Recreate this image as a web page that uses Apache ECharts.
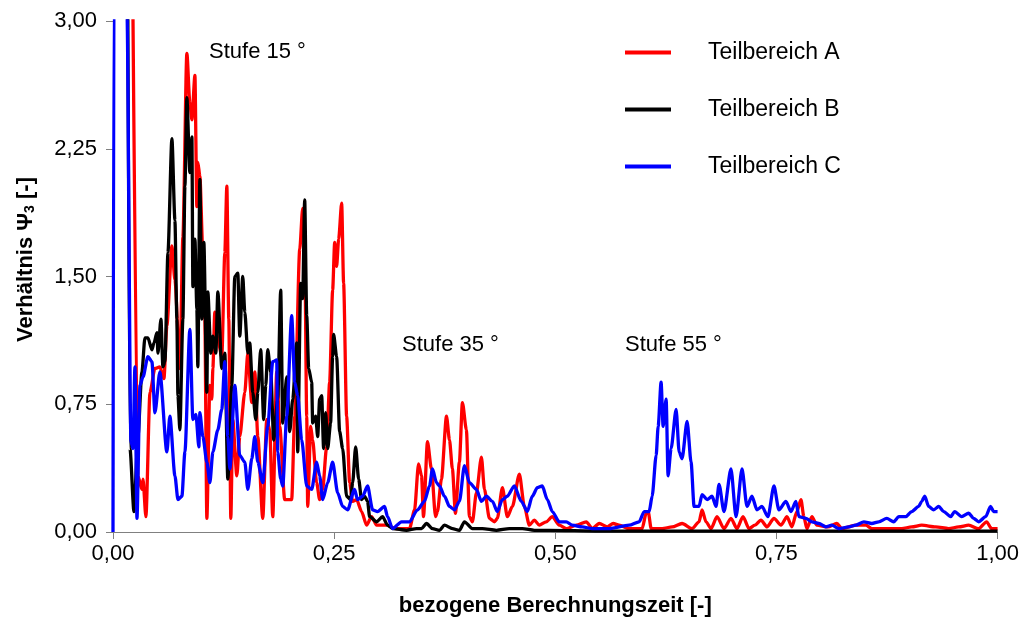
<!DOCTYPE html>
<html>
<head>
<meta charset="utf-8">
<script src="https://cdn.jsdelivr.net/npm/echarts@6/dist/echarts.min.js"></script>
<style>
html,body{margin:0;padding:0;background:#fff;}
#chart{width:1022px;height:622px;}
</style>
</head>
<body>
<div id="chart"></div>
<script>
// ---- data (x: bezogene Berechnungszeit, y: Verhältnis Psi3) ----
const xTickLabels = ['0,00', '0,25', '0,50', '0,75', '1,00'];
const yTickLabels = ['0,00', '0,75', '1,50', '2,25', '3,00'];
const seriesNames = ['Teilbereich A', 'Teilbereich B', 'Teilbereich C'];
const annotations = ['Stufe 15 °', 'Stufe 35 °', 'Stufe 55 °'];

const dataA = [
[0.0220,3.40],[0.0282,0.33],[0.0327,0.25],[0.0339,0.31],[0.0372,0.09],[0.0418,0.82],[0.0474,0.96],[0.0530,0.97],
[0.0576,0.90],[0.0609,1.21],[0.0666,1.68],[0.0700,1.48],[0.0756,0.96],[0.0790,1.73],[0.0835,2.81],[0.0869,2.52],
[0.0892,2.42],[0.0926,2.68],[0.0948,1.91],[0.0959,2.17],[0.0982,2.09],[0.1016,1.64],[0.1038,1.25],[0.1061,0.08],
[0.1095,0.86],[0.1117,0.78],[0.1129,0.96],[0.1151,1.29],[0.1185,1.13],[0.1230,1.03],[0.1264,1.64],[0.1287,2.03],
[0.1309,1.25],[0.1332,0.08],[0.1354,0.66],[0.1400,0.33],[0.1433,0.56],[0.1490,0.82],[0.1524,1.05],[0.1569,0.76],
[0.1603,0.94],[0.1637,0.56],[0.1693,0.08],[0.1738,0.66],[0.1772,0.60],[0.1806,0.09],[0.1851,0.94],[0.1885,0.62],
[0.1941,0.19],[0.2020,0.19],[0.2054,0.68],[0.2111,1.66],[0.2144,1.90],[0.2167,1.68],[0.2190,0.68],[0.2201,0.15],
[0.2235,0.62],[0.2257,0.54],[0.2302,0.29],[0.2336,0.19],[0.2370,0.25],[0.2415,0.50],[0.2449,0.88],[0.2483,1.42],
[0.2506,1.70],[0.2528,1.56],[0.2551,1.72],[0.2585,1.93],[0.2607,1.46],[0.2641,0.68],[0.2675,0.29],[0.2709,0.18],
[0.2754,0.19],[0.2810,0.12],[0.2867,0.04],[0.2923,0.09],[0.2980,0.04],[0.3093,0.04],[0.3205,0.02],[0.3352,0.02],
[0.3409,0.13],[0.3454,0.40],[0.3488,0.33],[0.3510,0.09],[0.3555,0.53],[0.3600,0.37],[0.3646,0.09],[0.3668,0.12],
[0.3713,0.31],[0.3770,0.68],[0.3804,0.54],[0.3837,0.37],[0.3871,0.11],[0.3916,0.41],[0.3950,0.76],[0.3995,0.60],
[0.4029,0.09],[0.4063,0.06],[0.4108,0.23],[0.4165,0.44],[0.4199,0.25],[0.4255,0.08],[0.4312,0.06],[0.4345,0.08],
[0.4402,0.26],[0.4458,0.09],[0.4515,0.15],[0.4594,0.34],[0.4650,0.15],[0.4707,0.04],[0.4763,0.07],[0.4819,0.04],
[0.4898,0.06],[0.4966,0.09],[0.5045,0.04],[0.5124,0.02],[0.5237,0.04],[0.5350,0.06],[0.5418,0.02],[0.5497,0.05],
[0.5587,0.03],[0.5655,0.05],[0.5722,0.04],[0.5835,0.02],[0.5982,0.02],[0.6027,0.11],[0.6050,0.12],[0.6084,0.02],
[0.6208,0.02],[0.6321,0.03],[0.6433,0.05],[0.6546,0.02],[0.6625,0.06],[0.6659,0.13],[0.6704,0.06],[0.6761,0.02],
[0.6828,0.09],[0.6907,0.02],[0.6986,0.08],[0.7054,0.02],[0.7122,0.09],[0.7190,0.02],[0.7257,0.04],[0.7325,0.07],
[0.7393,0.03],[0.7472,0.08],[0.7551,0.04],[0.7619,0.09],[0.7675,0.03],[0.7731,0.12],[0.7777,0.19],[0.7810,0.09],
[0.7844,0.02],[0.7901,0.09],[0.7957,0.04],[0.8081,0.03],[0.8183,0.05],[0.8239,0.02],[0.8397,0.04],[0.8510,0.04],
[0.8578,0.02],[0.8691,0.02],[0.8916,0.02],[0.9029,0.03],[0.9142,0.04],[0.9300,0.03],[0.9447,0.02],[0.9560,0.03],
[0.9673,0.04],[0.9786,0.02],[0.9876,0.06],[0.9932,0.02],[1.0000,0.02]
];

const dataB = [
[0.0165,3.40],[0.0192,0.49],[0.0237,0.12],[0.0282,0.56],[0.0327,0.94],[0.0361,1.14],[0.0395,1.14],[0.0440,1.07],
[0.0463,1.11],[0.0497,1.17],[0.0508,1.05],[0.0542,1.25],[0.0564,0.97],[0.0587,1.00],[0.0621,1.64],[0.0666,2.31],
[0.0700,1.83],[0.0722,1.25],[0.0734,0.80],[0.0756,0.60],[0.0790,1.25],[0.0813,2.03],[0.0835,2.55],[0.0869,2.11],
[0.0892,2.32],[0.0903,1.44],[0.0926,1.72],[0.0948,1.31],[0.0959,0.97],[0.0982,2.07],[0.1005,1.25],[0.1027,1.70],
[0.1061,0.82],[0.1072,1.41],[0.1106,1.05],[0.1129,1.15],[0.1163,1.05],[0.1185,1.41],[0.1230,0.96],[0.1264,1.05],
[0.1298,0.31],[0.1343,0.86],[0.1377,1.50],[0.1411,1.52],[0.1433,1.15],[0.1467,1.50],[0.1490,1.29],[0.1524,1.05],
[0.1546,1.11],[0.1580,0.82],[0.1614,0.66],[0.1637,0.82],[0.1670,1.07],[0.1704,0.66],[0.1727,0.86],[0.1749,1.07],
[0.1783,0.94],[0.1817,0.54],[0.1862,0.78],[0.1896,1.42],[0.1919,0.64],[0.1964,0.91],[0.1998,0.59],[0.2032,0.78],
[0.2077,1.11],[0.2088,0.47],[0.2122,1.46],[0.2144,1.37],[0.2167,1.95],[0.2190,1.27],[0.2212,0.96],[0.2246,0.88],
[0.2257,0.64],[0.2291,0.68],[0.2314,0.56],[0.2336,0.78],[0.2359,0.80],[0.2381,0.49],[0.2404,0.70],[0.2427,0.49],
[0.2460,0.64],[0.2483,1.03],[0.2494,1.16],[0.2528,1.03],[0.2562,0.59],[0.2596,0.49],[0.2641,0.21],[0.2686,0.19],
[0.2709,0.29],[0.2743,0.50],[0.2777,0.31],[0.2810,0.19],[0.2844,0.21],[0.2878,0.18],[0.2901,0.09],[0.2980,0.06],
[0.3047,0.09],[0.3104,0.04],[0.3160,0.02],[0.3318,0.01],[0.3431,0.02],[0.3488,0.02],[0.3544,0.05],[0.3612,0.02],
[0.3691,0.01],[0.3747,0.04],[0.3837,0.02],[0.3916,0.01],[0.3973,0.06],[0.4063,0.02],[0.4176,0.02],[0.4334,0.01],
[0.4481,0.02],[0.4628,0.02],[0.4763,0.01],[0.4932,0.01],[0.5500,0.005],[0.7000,0.005],[0.8500,0.005],[1.0000,0.005]
];

const dataC = [
[0.0000,0.00],[0.0012,3.40],[0.0150,3.40],[0.0158,3.05],[0.0203,0.53],[0.0226,0.49],[0.0248,0.97],[0.0271,0.08],
[0.0305,0.86],[0.0339,0.91],[0.0395,1.03],[0.0440,1.00],[0.0474,0.70],[0.0530,0.94],[0.0609,0.47],[0.0643,0.68],
[0.0700,0.33],[0.0734,0.19],[0.0779,0.21],[0.0813,0.47],[0.0869,1.19],[0.0903,0.66],[0.0937,0.69],[0.0971,0.50],
[0.0982,0.70],[0.1016,0.56],[0.1061,0.41],[0.1095,0.29],[0.1129,0.47],[0.1185,0.60],[0.1230,0.72],[0.1264,1.00],
[0.1298,0.56],[0.1321,0.37],[0.1377,0.86],[0.1433,0.45],[0.1490,0.41],[0.1524,0.25],[0.1569,0.43],[0.1603,0.56],
[0.1637,0.41],[0.1693,0.29],[0.1749,0.62],[0.1806,1.00],[0.1851,1.01],[0.1862,0.47],[0.1896,0.31],[0.1919,0.27],
[0.1964,0.68],[0.2020,1.27],[0.2054,0.88],[0.2088,0.80],[0.2133,0.54],[0.2190,0.27],[0.2246,0.25],[0.2302,0.41],
[0.2336,0.33],[0.2370,0.19],[0.2427,0.29],[0.2483,0.41],[0.2540,0.23],[0.2596,0.15],[0.2652,0.13],[0.2731,0.25],
[0.2765,0.19],[0.2822,0.21],[0.2878,0.27],[0.2935,0.13],[0.2991,0.12],[0.3070,0.15],[0.3104,0.09],[0.3160,0.02],
[0.3262,0.06],[0.3352,0.06],[0.3442,0.13],[0.3521,0.18],[0.3578,0.27],[0.3612,0.37],[0.3657,0.29],[0.3691,0.27],
[0.3747,0.21],[0.3804,0.15],[0.3860,0.13],[0.3916,0.18],[0.3973,0.39],[0.4029,0.29],[0.4108,0.25],[0.4165,0.18],
[0.4221,0.21],[0.4289,0.18],[0.4345,0.12],[0.4402,0.19],[0.4458,0.21],[0.4537,0.27],[0.4616,0.18],[0.4684,0.12],
[0.4740,0.21],[0.4797,0.26],[0.4853,0.27],[0.4910,0.19],[0.4966,0.12],[0.5045,0.06],[0.5124,0.06],[0.5192,0.04],
[0.5305,0.03],[0.5418,0.02],[0.5609,0.02],[0.5835,0.04],[0.5948,0.06],[0.6005,0.12],[0.6061,0.12],[0.6095,0.21],
[0.6140,0.45],[0.6163,0.62],[0.6196,0.88],[0.6219,0.62],[0.6253,0.78],[0.6275,0.33],[0.6309,0.49],[0.6366,0.72],
[0.6400,0.47],[0.6433,0.43],[0.6490,0.65],[0.6535,0.41],[0.6569,0.15],[0.6625,0.15],[0.6659,0.22],[0.6716,0.19],
[0.6772,0.21],[0.6817,0.15],[0.6851,0.28],[0.6907,0.12],[0.6986,0.37],[0.7043,0.09],[0.7111,0.37],[0.7167,0.15],
[0.7223,0.21],[0.7280,0.13],[0.7336,0.15],[0.7404,0.09],[0.7472,0.27],[0.7528,0.13],[0.7607,0.18],[0.7664,0.12],
[0.7720,0.18],[0.7754,0.09],[0.7833,0.08],[0.7901,0.06],[0.7980,0.05],[0.8059,0.03],[0.8126,0.04],[0.8205,0.02],
[0.8318,0.03],[0.8397,0.04],[0.8488,0.06],[0.8578,0.05],[0.8657,0.06],[0.8747,0.08],[0.8826,0.06],[0.8883,0.09],
[0.8962,0.09],[0.9029,0.12],[0.9108,0.15],[0.9142,0.18],[0.9176,0.21],[0.9221,0.15],[0.9278,0.13],[0.9334,0.15],
[0.9391,0.12],[0.9470,0.09],[0.9515,0.12],[0.9594,0.09],[0.9673,0.11],[0.9729,0.08],[0.9786,0.06],[0.9865,0.09],
[0.9921,0.15],[0.9955,0.12],[1.0000,0.12]
];

// ---- chart ----
const FONT = '"Liberation Sans", Arial, sans-serif';
const chart = echarts.init(document.getElementById('chart'), null, {renderer: 'canvas'});
const fmtX = v => xTickLabels[Math.round(v / 0.25)] ?? '';
const fmtY = v => yTickLabels[Math.round(v / 0.75)] ?? '';
const axisGray = '#808080';

const mkSeries = (name, data, color) => ({
  name, type: 'line', data, symbol: 'none', smooth: 0.25, smoothMonotone: 'x',
  clip: true, animation: false,
  lineStyle: {color, width: 3.3}, itemStyle: {color}
});

chart.setOption({
  animation: false,
  backgroundColor: '#fff',
  grid: {left: 113, right: 22, top: 21, bottom: 89, containLabel: false},
  xAxis: {
    type: 'value', min: 0, max: 1, interval: 0.25,
    name: 'bezogene Berechnungszeit [-]', nameLocation: 'middle', nameGap: 63,
    nameTextStyle: {fontFamily: FONT, fontSize: 22, fontWeight: 'bold', color: '#000'},
    axisLine: {show: true, lineStyle: {color: axisGray, width: 1}},
    axisTick: {show: true, inside: false, length: 7, lineStyle: {color: axisGray}},
    axisLabel: {formatter: fmtX, fontFamily: FONT, fontSize: 22, color: '#000', margin: 11},
    splitLine: {show: false}
  },
  yAxis: {
    type: 'value', min: 0, max: 3, interval: 0.75,
    name: 'Verhältnis Ψ{sub|3} [-]', nameLocation: 'middle', nameGap: 76, nameRotate: 90,
    nameTextStyle: {fontFamily: FONT, fontSize: 22, fontWeight: 'bold', color: '#000', padding: [0, 0, 0, 34],
      rich: {sub: {fontFamily: FONT, fontSize: 14, fontWeight: 'bold', color: '#000', verticalAlign: 'bottom', padding: [8, 0, 0, 0]}}},
    axisLine: {show: true, lineStyle: {color: axisGray, width: 1}},
    axisTick: {show: true, inside: false, length: 7, lineStyle: {color: axisGray}},
    axisLabel: {formatter: fmtY, fontFamily: FONT, fontSize: 22, color: '#000', margin: 16},
    splitLine: {show: false}
  },
  legend: {
    show: true, orient: 'vertical', left: 620, top: 36,
    icon: 'rect', itemWidth: 46, itemHeight: 4, itemGap: 34,
    data: seriesNames,
    formatter: n => '{g|}' + n,
    textStyle: {fontFamily: FONT, fontSize: 23, color: '#000', lineHeight: 23,
      rich: {g: {width: 32}}}
  },
  graphic: [
    {type: 'text', left: 209, top: 41, style: {text: annotations[0], font: '22px ' + FONT, fill: '#000'}},
    {type: 'text', left: 402, top: 334, style: {text: annotations[1], font: '22px ' + FONT, fill: '#000'}},
    {type: 'text', left: 625, top: 334, style: {text: annotations[2], font: '22px ' + FONT, fill: '#000'}}
  ],
  series: [
    mkSeries(seriesNames[0], dataA, '#ff0000'),
    mkSeries(seriesNames[1], dataB, '#000000'),
    mkSeries(seriesNames[2], dataC, '#0000ff')
  ]
});
</script>
</body>
</html>
